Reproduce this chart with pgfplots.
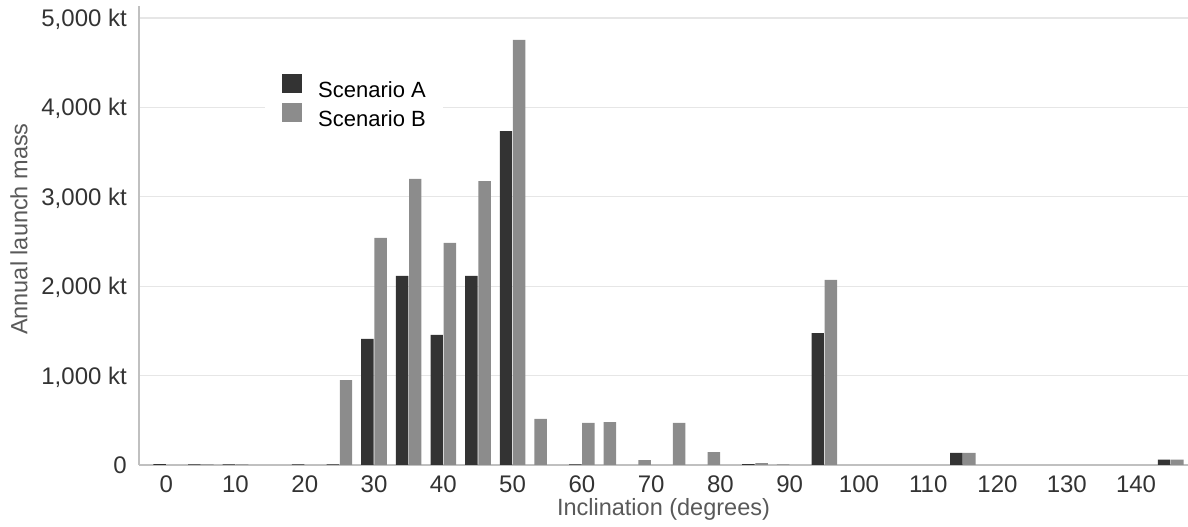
\documentclass[border=0pt]{standalone}
\usepackage{fontspec}
\setmainfont{Liberation Sans}
\usepackage{pgfplots}
\pgfplotsset{compat=1.18}
\definecolor{barA}{HTML}{333333}
\definecolor{barB}{HTML}{8C8C8C}
\definecolor{gridc}{HTML}{E6E6E6}
\definecolor{axisc}{HTML}{C0C0C0}
\definecolor{tickc}{HTML}{333333}
\definecolor{labc}{HTML}{595959}
\begin{document}
\begin{tikzpicture}
\useasboundingbox (0,0) rectangle (1188bp,527bp);
\begin{axis}[
  at={(139bp,62bp)}, anchor=south west,
  scale only axis, width=1049bp, height=459bp,
  xmin=-3.93, xmax=147.5, ymin=0, ymax=5134,
  axis x line=bottom, axis y line=left,
  axis line style={-, draw=axisc, line width=1.3bp},
  xtick={0,10,...,140}, ytick={0,1000,...,5000},
  yticklabels={0,{1,000 kt},{2,000 kt},{3,000 kt},{4,000 kt},{5,000 kt}},
  major tick length=0pt,
  ymajorgrids, grid style={draw=gridc, line width=1.3bp},
  /pgf/number format/assume math mode=true,
  tick label style={font=\fontsize{24bp}{28bp}\selectfont, text=tickc},
  x tick label style={anchor=north, inner sep=0pt, yshift=-11bp},
  y tick label style={anchor=base east, inner sep=0pt, xshift=-12bp, yshift=-8.5bp},
  xlabel={Inclination (degrees)}, ylabel={Annual launch mass},
  xlabel style={at={(axis description cs:0.5,-0.097)}, anchor=center, text=labc, font=\fontsize{23.5bp}{28bp}\selectfont},
  ylabel style={at={(axis description cs:-0.1144,0.514)}, anchor=center, text=labc, font=\fontsize{23.5bp}{28bp}\selectfont},
  ybar, bar width=1.8,
  legend style={at={(axis description cs:0.1201,0.86)}, anchor=north west, draw=none, fill=white,
    inner xsep=17bp, inner ysep=4bp, font=\fontsize{22bp}{26bp}\selectfont,
    nodes={inner sep=0pt, text height=16bp, text depth=5bp}},
  legend cell align=left,
]
% Scenario A (left slot of each 5-degree bin)
\addplot[fill=barA, draw=none, bar shift=-0.95,
  legend image code/.code={\fill[barA] (0bp,-1bp) rectangle (20bp,18bp); \path (36bp,0bp);}]
  coordinates {(0,10) (5,8) (10,8) (20,8) (25,8) (30,1410) (35,2115) (40,1455) (45,2115) (50,3735)
    (60,8) (85,10) (95,1475) (115,135) (145,60)};
% Scenario B (right slot where A is present)
\addplot[fill=barB, draw=none, bar shift=0.95,
  legend image code/.code={\fill[barB] (0bp,-1bp) rectangle (20bp,18bp); \path (36bp,0bp);}]
  coordinates {(5,8) (10,8) (25,950) (30,2540) (35,3200) (40,2485) (45,3175) (50,4755)
    (60,470) (85,22) (95,2070) (115,135) (145,60)};
% Scenario B alone in its bin (drawn in the left slot)
\addplot[fill=barB, draw=none, bar shift=-0.95, forget plot]
  coordinates {(55,515) (65,480) (70,55) (75,470) (80,145) (90,8)};
\legend{Scenario A, Scenario B}
\end{axis}
\end{tikzpicture}
\end{document}
